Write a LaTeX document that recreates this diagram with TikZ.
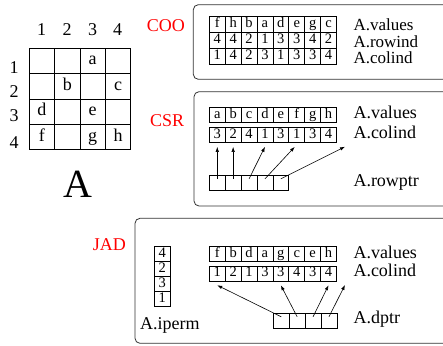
\documentclass[tikz,border=0pt]{standalone}
\usepackage{fontspec}
\setmainfont{Liberation Serif}
\usetikzlibrary{arrows.meta,calc}
\begin{document}
\begin{tikzpicture}[x=1pt,y=-1pt,
  cellbox/.style={draw,line width=0.7pt,minimum width=15.9pt,minimum height=15pt,inner sep=0pt,
    text height=9.8pt,text depth=3pt,font=\fontsize{14.5}{14.5}\selectfont},
  mcell/.style={draw,line width=0.8pt,minimum width=25.35pt,minimum height=25.35pt,inner sep=0pt,
    text height=11.5pt,text depth=3.5pt,font=\fontsize{18}{18}\selectfont},
  lbl/.style={anchor=base west,inner sep=0pt,font=\fontsize{18}{18}\selectfont},
  lblsm/.style={lbl,font=\fontsize{17}{17}\selectfont},
  idx/.style={anchor=base,inner sep=0pt,font=\fontsize{18}{18}\selectfont},
  fmt/.style={anchor=base west,inner sep=0pt,text=red,font=\fontsize{18}{18}\selectfont},
  groupbox/.style={draw=black!80,line width=0.8pt,rounded corners=5pt},
  arr/.style={-{Latex[length=5pt,width=3.5pt]},line width=0.6pt}]
\useasboundingbox (0,0) rectangle (443,345);
\clip (0,0) rectangle (443,345);

% ---------- matrix A ----------
\foreach \r/\c/\t in {1/1/{},1/2/{},1/3/a,1/4/{},2/1/{},2/2/b,2/3/{},2/4/c,
                      3/1/d,3/2/{},3/3/e,3/4/{},4/1/f,4/2/{},4/3/g,4/4/h}
  \node[mcell] (m\r\c) at (29.3+25.35*\c-12.675, 48.3+25.35*\r-12.675) {\t};
\foreach \c/\x in {1/41.5,2/67,3/92.5,4/117.5}
  \node[idx] (col\c) at (\x,35) {\c};
\foreach \r/\y in {1/73.3,2/97,3/121.7,4/148}
  \node[idx] (row\r) at (14,\y) {\r};
\node[anchor=base,inner sep=0pt,font=\fontsize{40}{40}\selectfont] (Aname) at (78,197.5) {A};

% ---------- COO ----------
\draw[groupbox] (193.3,4.7) rectangle (470,79.3);
\node[fmt] (coo) at (146.7,31.7) {COO};
\foreach \v [count=\i] in {f,h,b,a,d,e,g,c}
  \node[cellbox,minimum height=16pt] (coov\i) at (201.35+15.9*\i,24.15) {\v};
\foreach \v [count=\i] in {4,4,2,1,3,3,4,2}
  \node[cellbox,minimum height=16pt] (coor\i) at (201.35+15.9*\i,40.3) {\v};
\foreach \v [count=\i] in {1,4,2,3,1,3,3,4}
  \node[cellbox,minimum height=16pt] (cooc\i) at (201.35+15.9*\i,56.3) {\v};
\node[lblsm] (coovl) at (353.3,30.7) {A.values};
\node[lblsm] (coorl) at (353.3,47.3) {A.rowind};
\node[lblsm] (coocl) at (353.3,63.5) {A.colind};

% ---------- CSR ----------
\draw[groupbox] (194,91.7) rectangle (470,206);
\node[fmt] (csr) at (150,126.7) {CSR};
\foreach \v [count=\i] in {a,b,c,d,e,f,g,h}
  \node[cellbox] (csrv\i) at (201.35+15.9*\i,114.8) {\v};
\foreach \v [count=\i] in {3,2,4,1,3,1,3,4}
  \node[cellbox] (csrc\i) at (201.35+15.9*\i,135) {\v};
\foreach \i in {1,...,5}
  \node[cellbox,minimum height=15.7pt] (rp\i) at (201.35+15.9*\i,182.85) {};
\coordinate (csrend) at (345,146.7);
\node[lbl] (csrvl) at (353.3,118.3) {A.values};
\node[lbl] (csrcl) at (353.3,138) {A.colind};
\node[lbl] (csrrl) at (353.3,186) {A.rowptr};
\draw[arr] ([yshift=4pt]rp1.center) -- ([yshift=-4pt]csrc1.south);
\draw[arr] ([yshift=4pt]rp2.center) -- ([yshift=-4pt]csrc2.south);
\draw[arr] ([yshift=4pt]rp3.center) -- ([yshift=-4pt]csrc4.south);
\draw[arr] ([yshift=4pt]rp4.center) -- ([yshift=-4pt,xshift=-2pt]csrc6.south);
\draw[arr] ([yshift=4pt]rp5.center) -- (csrend);

% ---------- JAD ----------
\draw[groupbox] (135,218.3) rectangle (470,343.3);
\node[fmt] (jad) at (92.7,250) {JAD};
\foreach \v [count=\i] in {4,2,3,1}
  \node[cellbox,minimum width=16.7pt] (ip\i) at (162.35,239.2+15*\i) {\v};
\node[lbl] (ipl) at (140,329) {A.iperm};
\foreach \v [count=\i] in {f,b,d,a,g,c,e,h}
  \node[cellbox,minimum height=14.5pt] (jadv\i) at (201.35+15.9*\i,253.7) {\v};
\foreach \v [count=\i] in {1,2,1,3,3,4,3,4}
  \node[cellbox] (jadc\i) at (201.35+15.9*\i,273.4) {\v};
\foreach \i in {1,...,4}
  \node[cellbox] (dp\i) at (265.35+15.9*\i,320.8) {};
\coordinate (jadend) at (345,285);
\node[lbl] (jadvl) at (353.3,258.3) {A.values};
\node[lbl] (jadcl) at (353.3,276.7) {A.colind};
\node[lbl] (jaddl) at (353.3,323.3) {A.dptr};
\draw[arr] ([yshift=4pt]dp1.center) -- ([yshift=-4pt]jadc1.south);
\draw[arr] ([yshift=4pt]dp2.center) -- ([yshift=-4pt]jadc5.south);
\draw[arr] ([yshift=4pt]dp3.center) -- ([yshift=-4pt]jadc8.south);
\draw[arr] ([yshift=4pt]dp4.center) -- (jadend);
\end{tikzpicture}
\end{document}
